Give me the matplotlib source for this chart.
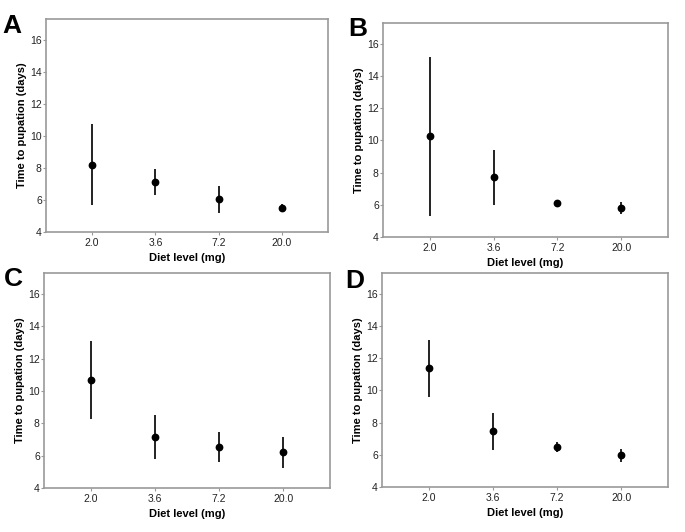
import matplotlib
matplotlib.use('Agg')
import matplotlib.pyplot as plt

plt.rcParams['font.family'] = ['Liberation Sans', 'DejaVu Sans']

diet_levels = ['2.0', '3.6', '7.2', '20.0']
panel_labels = ['A', 'B', 'C', 'D']

# mean time to pupation and error bar limits per panel
means = {
    'A': [8.2, 7.13, 6.07, 5.48],
    'B': [10.28, 7.72, 6.14, 5.81],
    'C': [10.67, 7.18, 6.56, 6.22],
    'D': [11.4, 7.46, 6.49, 5.97],
}
lower = {
    'A': [5.66, 6.3, 5.2, 5.28],
    'B': [5.31, 6.0, 6.06, 5.43],
    'C': [8.26, 5.81, 5.62, 5.23],
    'D': [9.62, 6.32, 6.16, 5.53],
}
upper = {
    'A': [10.73, 7.93, 6.9, 5.76],
    'B': [15.19, 9.43, 6.22, 6.16],
    'C': [13.08, 8.51, 7.47, 7.18],
    'D': [13.16, 8.62, 6.8, 6.38],
}

yticks = [4, 6, 8, 10, 12, 14, 16]

W, H = 685, 532
fig = plt.figure(figsize=(W / 100, H / 100), dpi=100)

# axes boxes in pixels: left, top, right, bottom
boxes = {
    'A': (46, 19, 328, 232),
    'B': (383, 23, 668, 237),
    'C': (44, 273, 330, 488),
    'D': (382, 273, 668, 487),
}
letter_pos = {'A': (2, 33), 'B': (348, 36), 'C': (4, 286), 'D': (345, 288)}

frame_color = '#999999'

for p in panel_labels:
    l, t, r, b = boxes[p]
    ax = fig.add_axes([l / W, 1 - b / H, (r - l) / W, (b - t) / H])
    x = list(range(len(diet_levels)))
    m = means[p]
    yerr = [[mi - lo for mi, lo in zip(m, lower[p])],
            [hi - mi for mi, hi in zip(m, upper[p])]]
    ax.errorbar(x, m, yerr=yerr, fmt='o', color='black', ecolor='#222222',
                elinewidth=1.4, markersize=4.6, capsize=0, zorder=3)
    ax.set_xlim(-0.73, 3.73)
    ax.set_ylim(4, 17.3)
    ax.set_xticks(x)
    ax.set_xticklabels(diet_levels)
    ax.set_yticks(yticks)
    ax.tick_params(axis='both', labelsize=7.5, length=2, width=0.8,
                   color=frame_color, labelcolor='#222222')
    ax.tick_params(axis='y', pad=1)
    ax.tick_params(axis='x', pad=2)
    for s in ax.spines.values():
        s.set_color(frame_color)
        s.set_linewidth(1.2)
    ax.set_xlabel('Diet level (mg)', fontsize=8, fontweight='bold', labelpad=4)
    ax.set_ylabel('Time to pupation (days)', fontsize=8, fontweight='bold',
                  labelpad=2)
    lx, ly = letter_pos[p]
    fig.text(lx / W, 1 - ly / H, p, fontsize=19, fontweight='bold',
             ha='left', va='baseline')

fig.savefig('out.png', dpi=100)
plt.close(fig)
